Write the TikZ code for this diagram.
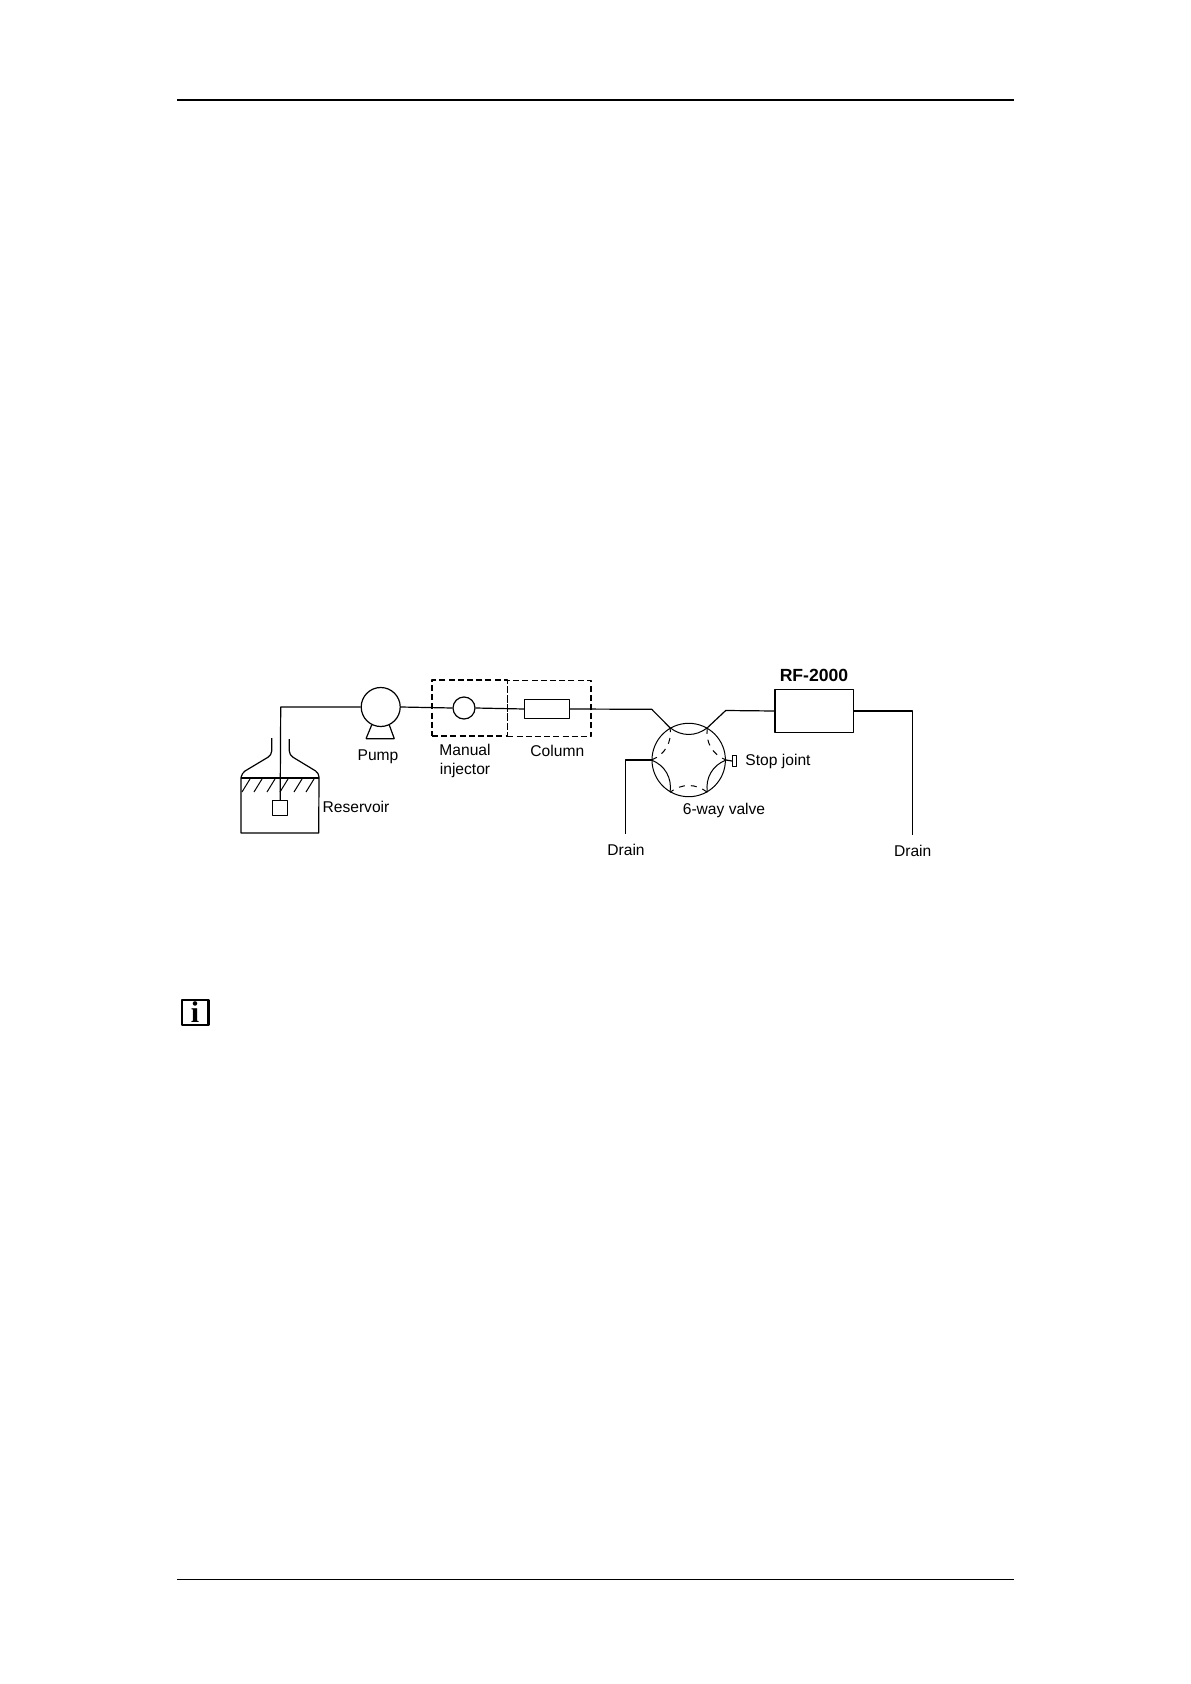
\documentclass[tikz,border=0pt]{standalone}
\usepackage{fontspec}
\setmainfont{Liberation Sans}
\newfontfamily\iconfont{Liberation Serif}
\tikzset{
  every picture/.style={line join=round, line cap=butt},
  tube/.style={line width=0.6pt},
  part/.style={draw, line width=0.6pt, inner sep=0pt, fill=white},
  dashbox/.style={draw, line width=0.6pt, inner sep=0pt, dash pattern=on 3pt off 1.6pt, minimum height=28pt},
  lbl/.style={font=\fontsize{7.8}{9.4}\selectfont, inner sep=0pt, align=center},
}
\begin{document}
\begin{tikzpicture}[x=0.5pt,y=-0.5pt]
\useasboundingbox (0,0) rectangle (1190,1684);
\fill[white] (0,0) rectangle (1190,1684);
\coordinate (headl) at (177,100);
\coordinate (headr) at (1014,100);
\coordinate (footl) at (177,1579);
\coordinate (footr) at (1014,1579);
\draw[line width=0.9pt] (headl) -- (headr);
\draw[line width=0.45pt] (footl) -- (footr);
% reservoir
\draw[tube] (241,778) -- (241,833) -- (318.7,833) -- (319,778);
\draw[tube, rounded corners=2pt] (271.7,738) -- (271.7,755) -- (241.7,773) -- (241,778);
\draw[tube, rounded corners=2pt] (289.3,739) -- (289.3,755) -- (319,773) -- (319,778);
\draw[line width=0.8pt] (241,778) -- (319,778);
\foreach \x in {242,254,267,280,294,306}
  \draw[line width=0.5pt] (\x,792) -- (\x+8,779);
% parts
\node[dashbox, minimum width=37.65pt] (injbox) at (469.7,708) {};
\node[dashbox, minimum width=41.85pt] (colbox) at (549.2,708.7) {};
\node[part, circle, minimum size=19.5pt] (pump) at (380.7,707) {};
\node[part, circle, minimum size=11pt] (injector) at (464,708) {};
\node[part, minimum width=22.3pt, minimum height=9.2pt] (column) at (547,709) {};
\node[part, circle, fill=none, minimum size=36.7pt, line width=0.5pt] (valve) at (688.7,760) {};
\node[part, minimum width=39.2pt, minimum height=21.7pt] (detector) at (814.2,711) {};
\node[part, minimum width=7.5pt, minimum height=7.2pt] (sinker) at (280.2,807.9) {};
\node[part, minimum width=1.8pt, minimum height=5.4pt] (stop) at (734.4,761) {};
\draw[tube] (366,738.7) -- (371.7,725) (394.3,738.7) -- (389.3,725) (366,738.7) -- (394.3,738.7);
% tubing
\coordinate (tubetop) at (280.7,707);
\coordinate (inbend) at (651.7,709.3);
\coordinate (outbend) at (725.7,710.5);
\coordinate (drainl) at (625.3,834);
\coordinate (drainr) at (912.7,835);
\draw[tube] (sinker.north) -- (tubetop) -- (pump.west);
\draw[tube] (pump.east) -- (injector.west);
\draw[tube] (injector.east) -- (column.west);
\draw[tube] (column.east) -- (inbend) -- (valve.120);
\draw[tube] (valve.60) -- (outbend) -- (detector.west);
\draw[tube] (detector.east) -| (drainr);
\draw[tube] (valve.180) -| (drainl);
\draw[tube] (valve.0) -- (stop.west);
% valve passages
\foreach \a/\b/\ls in {120/60/solid,60/0/dashed,0/-60/solid,-60/-120/dashed,-120/180/solid,180/120/dashed}
  \draw[line width=0.5pt, \ls, bend right=38] (valve.\a) to (valve.\b);
% labels
\node[lbl] (pumplbl) at (378,756.7) {Pump};
\node[lbl] (injlbl) at (465,761) {Manual\\injector};
\node[lbl] (collbl) at (557.3,750.7) {Column};
\node[lbl] (reslbl) at (356,806.7) {Reservoir};
\node[lbl, font=\fontsize{8.8}{10}\selectfont\bfseries] (detlbl) at (814,675) {RF-2000};
\node[lbl] (stoplbl) at (778,761.7) {Stop joint};
\node[lbl] (valvelbl) at (724,810.7) {6-way valve};
\node[lbl] (drainllbl) at (626,850) {Drain};
\node[lbl] (drainrlbl) at (912.7,851) {Drain};
% note icon
\node[draw, line width=1.2pt, minimum width=13.3pt, minimum height=12.6pt, inner sep=0pt, font=\iconfont\bfseries\fontsize{15}{15}\selectfont] (note) at (195,1012.5) {i};
\end{tikzpicture}
\end{document}
